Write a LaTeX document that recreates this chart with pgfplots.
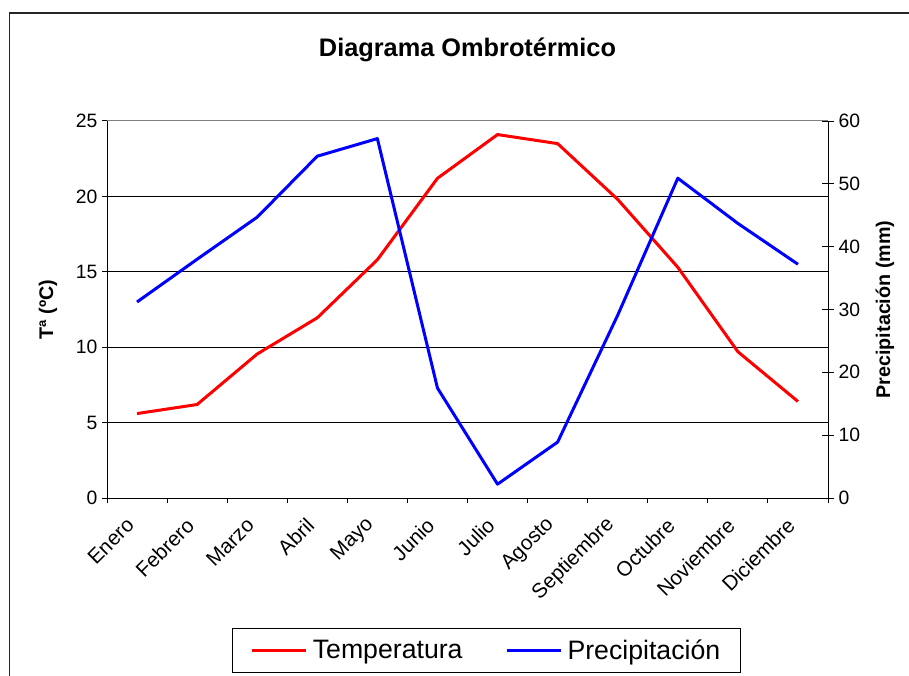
\documentclass[border=0pt]{standalone}
\usepackage{pgfplots}
\pgfplotsset{compat=1.18}
\usepackage{fontspec}
\setmainfont{Liberation Sans}
\begin{document}
\begin{tikzpicture}
\path[use as bounding box] (0,0) rectangle (681.75pt,506.25pt);
\draw[black!85, line width=1.2pt] (7.1pt,-5pt) -- (7.1pt,496.5pt) -- (690pt,496.5pt);
\pgfplotsset{
  myaxis/.style={
    at={(80.25pt,132.75pt)}, anchor=south west,
    scale only axis, width=540.75pt, height=282.75pt,
    xmin=-0.5, xmax=11.5,
    /pgf/number format/assume math mode=true,
    tick label style={font=\fontsize{14.5}{17}\selectfont},
    label style={font=\bfseries\fontsize{14.8}{17}\selectfont},
    axis line style={black, line width=0.75pt},
    every tick/.style={black, line width=0.75pt},
  }
}
\begin{axis}[myaxis,
  ymin=0, ymax=25,
  axis x line*=bottom, axis y line*=left,
  ytick={0,5,...,20},
  extra y ticks={25},
  extra y tick style={grid style={gray, line width=0.75pt}},
  ymajorgrids, grid style={black, line width=0.75pt},
  xtick={0,...,11},
  xticklabels={Enero,Febrero,Marzo,Abril,Mayo,Junio,Julio,Agosto,Septiembre,Octubre,Noviembre,Diciembre},
  major x tick style={draw=none},
  minor xtick={-0.5,0.5,...,11.5},
  minor x tick style={black, line width=0.75pt},
  minor tick length=3.75pt, major tick length=3.75pt,
  tick align=outside,
  xticklabel style={font=\fontsize{15.5}{18}\selectfont, inner sep=0pt, yshift=-14pt, xshift=-5pt, rotate=45, anchor=east},
  ylabel={Tª (ºC)},
  ylabel style={at={(axis description cs:-0.0818,0.5)}, anchor=center},
  title={Diagrama Ombrotérmico},
  title style={font=\bfseries\fontsize{19}{23}\selectfont, at={(axis description cs:0.5,1)}, anchor=base, yshift=42pt},
]
\addplot[red, line width=2.25pt, line join=round] coordinates {
(0,5.6) (1,6.2) (2,9.55) (3,11.95) (4,15.8) (5,21.2) (6,24.1) (7,23.5) (8,19.8) (9,15.3) (10,9.7) (11,6.4)};
\end{axis}
\begin{axis}[myaxis,
  ymin=0, ymax=60,
  axis y line*=right, axis x line=none,
  xtick=\empty,
  ytick={0,10,...,60},
  tick align=center, major tick length=9pt,
  ylabel={Precipitación (mm)},
  ylabel style={at={(axis description cs:1.0791,0.5)}, anchor=center},
  legend style={at={(axis description cs:0.5266,-0.345)}, anchor=north,
    legend columns=2, draw=black, line width=0.75pt,
    font=\fontsize{20}{24}\selectfont,
    /tikz/every even column/.append style={column sep=30pt},
    inner xsep=13.5pt, inner ysep=6.5pt},
  legend image code/.code={\draw[#1] (0pt,0pt) -- (40.5pt,0pt); \path (42.5pt,0pt);},
]
\addlegendimage{red, line width=2.25pt}
\addlegendentry{Temperatura}
\addplot[blue, line width=2.25pt, line join=round] coordinates {
(0,31.2) (1,38.0) (2,44.7) (3,54.4) (4,57.2) (5,17.5) (6,2.2) (7,8.9) (8,29.1) (9,50.9) (10,43.7) (11,37.2)};
\addlegendentry{Precipitación}
\end{axis}
\end{tikzpicture}
\end{document}
